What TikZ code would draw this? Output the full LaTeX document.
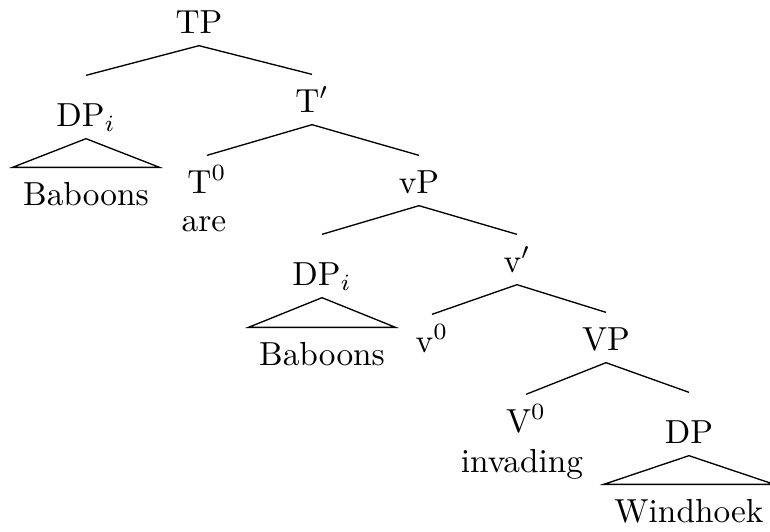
\documentclass[tikz,border=0pt]{standalone}
\begin{document}
\begin{tikzpicture}[x=0.3pt, y=-0.3pt, font=\fontsize{10}{12}\selectfont,
  cat/.style={anchor=base, inner xsep=0pt, inner ysep=0pt, text height=11.1pt, text depth=3.6pt},
  roofcat/.style={cat, text height=15pt},
  roofleaf/.style={cat, inner xsep=3pt}]
  \useasboundingbox (0,0) rectangle (770,531);

  \node[cat] (tp) at (199,33) {TP};
  \node[roofcat] (dpi) at (86,126) {DP$_i$};
  \node[roofleaf] (baboons) at (86,205) {Baboons};
  \node[cat] (tbar) at (312,112) {T$'$};
  \node[cat] (tzero) at (207,193) {T$^0$};
  \node[cat] (are) at (204,231) {are};
  \node[cat] (vp) at (419,193) {vP};
  \node[roofcat] (dpk) at (322,285) {DP$_i$};
  \node[roofleaf] (baboonsb) at (322,365) {Baboons};
  \node[cat] (vbar) at (517,272) {v$'$};
  \node[cat] (vzero) at (432,352) {v$^0$};
  \node[cat] (vphrase) at (606,350) {VP};
  \node[cat] (Vzero) at (526,432) {V$^0$};
  \node[cat] (invading) at (522,472) {invading};
  \node[roofcat] (dp) at (689,443) {DP};
  \node[roofleaf] (windhoek) at (689,522) {Windhoek};

  \draw (tp.south) -- (dpi.north);
  \draw (tp.south) -- (tbar.north);
  \draw (tbar.south) -- (tzero.north);
  \draw (tbar.south) -- (vp.north);
  \draw (vp.south) -- (dpk.north);
  \draw (vp.south) -- (vbar.north);
  \draw (vbar.south) -- (vzero.north);
  \draw (vbar.south) -- (vphrase.north);
  \draw (vphrase.south) -- (Vzero.north);
  \draw (vphrase.south) -- (dp.north);

  % roofs
  \draw (dpi.south) -- (baboons.north east) -- (baboons.north west) -- cycle;
  \draw (dpk.south) -- (baboonsb.north east) -- (baboonsb.north west) -- cycle;
  \draw (dp.south) -- (windhoek.north east) -- (windhoek.north west) -- cycle;
\end{tikzpicture}
\end{document}
